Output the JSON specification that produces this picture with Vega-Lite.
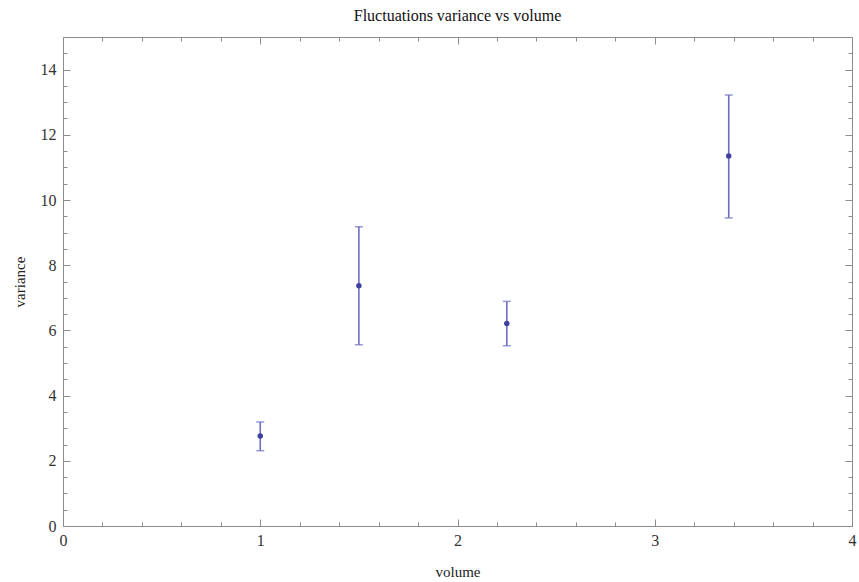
{
  "$schema": "https://vega.github.io/schema/vega-lite/v6.json",
  "width": 789,
  "height": 489,
  "autosize": "none",
  "padding": {"left": 63, "top": 37, "right": 7, "bottom": 56},
  "background": "white",
  "title": {"text": "Fluctuations variance vs volume", "font": "Liberation Serif", "fontSize": 16, "fontWeight": "normal", "color": "#111111", "offset": 13},
  "config": {
    "view": {"stroke": "#8c8c8c", "strokeWidth": 1},
    "axis": {
      "grid": false,
      "labelFlush": false,
      "domainColor": "#8c8c8c",
      "tickColor": "#8c8c8c",
      "labelFont": "Liberation Serif",
      "labelFontSize": 16,
      "labelColor": "#333333",
      "titleFont": "Liberation Serif",
      "titleFontSize": 15,
      "titleFontWeight": "normal",
      "titleColor": "#222222"
    }
  },
  "data": {
    "values": [
      {"volume": 1, "variance": 2.76, "lo": 2.31, "hi": 3.19},
      {"volume": 1.5, "variance": 7.37, "lo": 5.56, "hi": 9.18},
      {"volume": 2.25, "variance": 6.21, "lo": 5.53, "hi": 6.89},
      {"volume": 3.375, "variance": 11.35, "lo": 9.45, "hi": 13.22}
    ]
  },
  "encoding": {
    "x": {"field": "volume", "type": "quantitative", "scale": {"domain": [0, 4], "nice": false, "zero": false}},
    "y": {"type": "quantitative", "scale": {"domain": [0, 15], "nice": false, "zero": false}}
  },
  "layer": [
    {
      "mark": {"type": "rule", "color": "#6e6ec4", "strokeWidth": 1.6},
      "encoding": {
        "x": {"field": "volume", "type": "quantitative", "title": "volume",
          "axis": {"orient": "bottom", "values": [0, 1, 2, 3, 4], "tickSize": -7, "labelPadding": 13, "titlePadding": 16}},
        "y": {"field": "lo", "type": "quantitative", "title": "variance",
          "axis": {"orient": "left", "values": [0, 2, 4, 6, 8, 10, 12, 14], "tickSize": -7, "labelPadding": 14, "titlePadding": 13}},
        "y2": {"field": "hi"}
      }
    },
    {
      "mark": {"type": "tick", "orient": "horizontal", "color": "#6e6ec4", "size": 8, "thickness": 1.5},
      "encoding": {
        "x": {"field": "volume", "type": "quantitative",
          "axis": {"orient": "top", "values": [0.2,0.4,0.6,0.8,1,1.2,1.4,1.6,1.8,2,2.2,2.4,2.6,2.8,3,3.2,3.4,3.6,3.8], "labels": false, "title": null, "domain": false, "tickSize": -4}},
        "y": {"field": "lo", "type": "quantitative",
          "axis": {"orient": "right", "values": [0.5,1,1.5,2,2.5,3,3.5,4,4.5,5,5.5,6,6.5,7,7.5,8,8.5,9,9.5,10,10.5,11,11.5,12,12.5,13,13.5,14,14.5], "labels": false, "title": null, "domain": false, "tickSize": -4}}
      }
    },
    {
      "mark": {"type": "tick", "orient": "horizontal", "color": "#6e6ec4", "size": 8, "thickness": 1.5},
      "encoding": {
        "x": {"field": "volume", "type": "quantitative",
          "axis": {"orient": "bottom", "values": [0.2,0.4,0.6,0.8,1.2,1.4,1.6,1.8,2.2,2.4,2.6,2.8,3.2,3.4,3.6,3.8], "labels": false, "title": null, "domain": false, "tickSize": -4}},
        "y": {"field": "hi", "type": "quantitative",
          "axis": {"orient": "left", "values": [0.5,1,1.5,2.5,3,3.5,4.5,5,5.5,6.5,7,7.5,8.5,9,9.5,10.5,11,11.5,12.5,13,13.5,14.5], "labels": false, "title": null, "domain": false, "tickSize": -4}}
      }
    },
    {
      "mark": {"type": "point", "filled": true, "color": "#40409e", "size": 30, "opacity": 1},
      "encoding": {
        "x": {"field": "volume", "type": "quantitative",
          "axis": {"orient": "top", "values": [1, 2, 3], "labels": false, "title": null, "domain": false, "tickSize": -7}},
        "y": {"field": "variance", "type": "quantitative",
          "axis": {"orient": "right", "values": [2, 4, 6, 8, 10, 12, 14], "labels": false, "title": null, "domain": false, "tickSize": -7}}
      }
    }
  ],
  "resolve": {"axis": {"x": "independent", "y": "independent"}}
}
